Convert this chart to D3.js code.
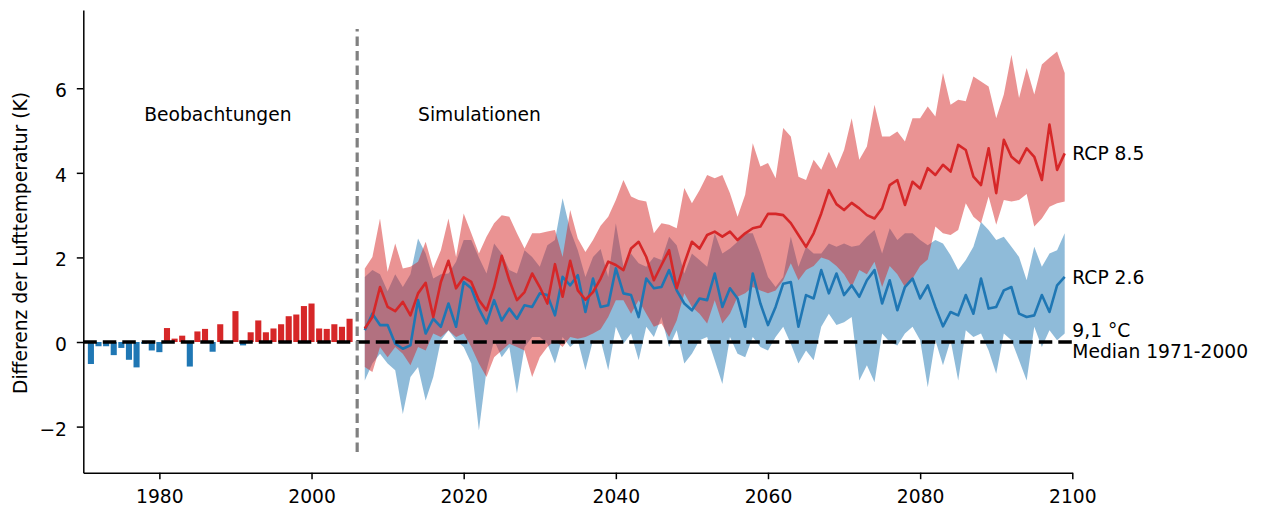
<!DOCTYPE html>
<html><head><meta charset="utf-8">
<script src="https://cdn.jsdelivr.net/npm/d3@7"></script>
<style>body{margin:0;background:#fff} svg{display:block} text{font-family:"DejaVu Sans",sans-serif;fill:#000}</style>
</head><body><svg id="c" width="1266" height="506"></svg>
<script>
// ---- data ----
const obsYears = d3.range(1971, 2006);
const obsValues = [-0.52,-0.10,-0.10,-0.31,-0.14,-0.42,-0.60,-0.04,-0.20,-0.24,
  0.33,0.08,0.15,-0.58,0.25,0.31,-0.23,0.42,0.02,0.73,
  -0.08,0.23,0.51,0.23,0.32,0.42,0.61,0.65,0.85,0.91,
  0.32,0.31,0.42,0.36,0.55];

const simYears = d3.range(2007, 2100);
const rcp85Median = [0.32,0.59,1.30,0.83,0.73,0.95,0.63,1.15,1.40,0.59,1.42,1.92,1.27,1.53,1.42,0.99,0.75,1.30,2.04,1.46,0.99,1.18,1.62,1.30,0.91,1.84,1.07,1.92,1.22,1.00,1.18,1.50,
  1.90,1.82,1.70,2.21,2.37,2.01,1.46,1.82,2.17,1.27,1.86,2.37,2.21,2.53,2.61,2.49,2.61,2.41,2.57,2.69,2.73,3.03,3.03,3.00,2.81,2.53,2.25,2.57,3.04,3.59,3.26,
  3.12,3.29,3.16,3.00,2.92,3.16,3.71,3.83,3.24,3.79,3.63,4.11,3.95,4.19,4.03,4.66,4.54,3.91,3.71,4.58,3.52,4.78,4.38,4.23,4.58,4.38,3.83,5.14,4.07,4.46];
const rcp85High = [1.74,2.01,2.92,1.66,2.33,1.74,1.78,1.90,2.37,1.74,2.17,2.92,2.01,3.04,2.57,2.09,2.49,2.81,3.00,2.96,2.57,2.21,2.57,2.57,2.61,2.65,2.01,3.12,2.45,2.13,2.41,2.75,
  2.96,3.36,3.83,3.44,3.36,3.32,2.57,2.81,2.77,2.69,3.64,3.28,3.59,3.95,3.87,3.95,3.52,2.96,3.48,4.70,4.15,4.23,3.87,5.06,4.86,3.91,3.83,4.31,4.07,4.50,4.10,
  4.54,5.29,4.31,4.62,5.61,4.86,4.86,4.98,4.74,5.29,5.29,5.57,5.33,6.36,5.61,5.73,5.69,6.28,6.16,6.04,5.29,5.85,6.79,5.77,6.48,5.85,6.56,6.72,6.87,6.36];
const rcp85Low = [-0.59,-0.71,-0.12,-0.36,-0.12,-0.28,-0.55,-0.12,-0.20,0.20,0.12,0.28,0.12,0.20,-0.12,-0.51,-0.83,-0.36,-0.20,-0.04,-0.12,-0.20,-0.83,-0.36,-0.12,0.04,-0.12,0.12,0.08,0.12,0.20,0.30,
  0.59,0.99,0.99,0.67,0.99,0.67,0.36,0.44,0.12,0.51,1.15,0.83,0.67,0.44,0.99,0.44,0.67,1.07,1.15,1.30,1.22,1.15,1.22,1.46,1.86,1.46,1.70,1.80,2.00,1.94,1.80,
  1.60,1.30,1.70,1.60,1.90,1.30,1.80,1.60,1.30,1.50,1.80,1.95,2.73,2.57,2.53,2.65,3.28,2.96,2.81,3.44,2.77,3.36,3.32,3.36,3.50,2.73,2.92,3.20,3.28,3.32];
const rcp26Median = [0.28,0.67,0.40,0.40,-0.04,-0.16,-0.08,0.99,0.20,0.55,0.36,0.91,0.36,1.42,1.27,0.79,0.44,0.99,0.51,0.79,0.55,0.87,0.83,1.15,1.11,0.63,1.54,1.34,1.58,0.71,1.50,0.83,
  0.87,1.74,1.15,1.11,0.59,1.50,1.27,1.30,1.70,1.22,0.91,0.75,1.03,0.99,1.62,0.83,1.27,1.03,0.36,1.62,0.91,0.40,0.83,1.38,1.42,0.36,1.11,1.03,1.70,1.15,1.62,
  1.11,1.34,1.07,1.46,1.70,0.91,1.46,0.75,1.30,1.50,1.03,1.34,0.83,0.37,0.71,0.63,1.11,0.67,1.50,0.79,0.83,1.22,1.30,0.67,0.59,0.63,1.11,0.71,1.34,1.54];
const rcp26High = [1.54,1.70,1.60,1.20,1.60,1.30,1.60,2.45,2.09,1.50,1.60,1.62,1.90,2.41,2.41,2.00,1.62,2.33,2.09,1.70,1.62,2.17,2.01,1.78,2.29,2.41,3.40,2.65,2.17,1.54,2.01,2.20,
  1.54,2.81,1.78,2.09,1.86,1.78,2.01,1.94,2.49,2.29,1.62,2.09,1.94,1.78,2.57,2.09,2.21,2.37,2.57,2.57,2.09,1.54,1.30,1.54,2.49,1.78,2.25,2.09,2.09,2.33,2.25,
  2.33,2.25,2.29,2.49,2.65,2.09,2.69,2.41,2.57,2.57,2.41,2.29,2.41,2.33,2.05,1.70,1.94,2.25,2.84,2.65,2.41,2.49,2.25,2.01,1.46,2.25,1.78,2.09,2.17,2.57];
const rcp26Low = [-0.91,-0.51,-0.28,-0.51,-0.67,-1.70,-0.83,-0.59,-1.38,-0.83,0.04,0.28,0.04,-0.12,-0.51,-2.09,-0.67,0.04,-0.36,-0.12,-1.22,-0.12,0.12,0.12,-0.04,-0.51,0.12,-0.12,0.04,-0.67,0.04,0.05,
  -0.67,0.36,-0.04,0.20,-0.43,0.36,0.12,0.59,-0.12,0.28,-0.51,-0.28,0.04,0.12,-0.43,-0.99,0.12,-0.28,-0.36,0.12,-0.12,-0.20,0.12,0.36,-0.04,-0.51,-0.20,-0.43,0.36,0.67,0.40,
  0.47,0.59,-0.91,-0.55,-0.95,0.20,0.00,-0.08,0.20,0.36,0.04,-1.07,0.04,-0.55,0.04,-0.91,0.28,0.12,0.20,-0.20,-0.75,0.20,0.04,-0.43,-0.91,0.36,-0.12,0.28,0.04,0.20];

const xTicks = [1980, 2000, 2020, 2040, 2060, 2080, 2100];
const yTicks = [-2, 0, 2, 4, 6];
const xDomain = [1970, 2100];
const yDomain = [-3.09, 7.85];
const splitYear = 2006;
const splitRange = [-2.6, 7.4];
const labels = {obs: "Beobachtungen", sim: "Simulationen", r85: "RCP 8.5", r26: "RCP 2.6",
  ref1: "9,1 °C", ref2: "Median 1971-2000", yTitle: "Differenz der Lufttemperatur (K)"};
const labelPos = {obsYear: 1978, simYear: 2014, value: 5.23};

// ---- chart ----
const RED = "#d62728", BLUE = "#1f77b4";
const FS = 18.7;
const svg = d3.select("#c");
const x = d3.scaleLinear().domain(xDomain).range([83.3, 1072.3]);
const y = d3.scaleLinear().domain(yDomain).range([472.7, 10]);

const sim = simYears.map((yr, i) => ({yr, m85: rcp85Median[i], h85: rcp85High[i], l85: rcp85Low[i],
  m26: rcp26Median[i], h26: rcp26High[i], l26: rcp26Low[i]}));

// bars
const bw = 0.8 * (x(1) - x(0));
svg.append("g").selectAll("rect").data(obsYears.map((yr, i) => ({yr, v: obsValues[i]})))
  .join("rect")
  .attr("x", d => x(d.yr) - bw / 2)
  .attr("width", bw)
  .attr("y", d => y(Math.max(0, d.v)))
  .attr("height", d => Math.abs(y(d.v) - y(0)))
  .attr("fill", d => d.v < 0 ? BLUE : RED);

// bands
const area = (lo, hi) => d3.area().x(d => x(d.yr)).y0(d => y(d[lo])).y1(d => y(d[hi]));
svg.append("path").datum(sim).attr("d", area("l26", "h26")).attr("fill", BLUE).attr("fill-opacity", 0.5);
svg.append("path").datum(sim).attr("d", area("l85", "h85")).attr("fill", RED).attr("fill-opacity", 0.5);

// medians
const line = k => d3.line().x(d => x(d.yr)).y(d => y(d[k]));
svg.append("path").datum(sim).attr("d", line("m26")).attr("fill", "none").attr("stroke", BLUE).attr("stroke-width", 2.6).attr("stroke-linejoin", "round");
svg.append("path").datum(sim).attr("d", line("m85")).attr("fill", "none").attr("stroke", RED).attr("stroke-width", 2.6).attr("stroke-linejoin", "round");

// reference lines
svg.append("line").attr("x1", x(xDomain[0])).attr("x2", x(xDomain[1])).attr("y1", y(0)).attr("y2", y(0))
  .attr("stroke", "#000").attr("stroke-width", 3.5).attr("stroke-dasharray", "13.5,6");
svg.append("line").attr("x1", x(splitYear)).attr("x2", x(splitYear)).attr("y1", y(splitRange[0])).attr("y2", y(splitRange[1]))
  .attr("stroke", "#808080").attr("stroke-width", 3.2).attr("stroke-dasharray", "9.5,5");

// axes
const xAxis = svg.append("g").attr("transform", `translate(0,${y(yDomain[0])})`)
  .call(d3.axisBottom(x).tickValues(xTicks).tickFormat(d3.format("d")).tickSize(6.5).tickSizeOuter(0).tickPadding(11));
const yAxis = svg.append("g").attr("transform", `translate(${x(xDomain[0])},0)`)
  .call(d3.axisLeft(y).tickValues(yTicks).tickFormat(d => d < 0 ? "\u2212" + Math.abs(d) : d).tickSize(6.5).tickSizeOuter(0).tickPadding(9.8));
[xAxis, yAxis].forEach(g => {
  g.select(".domain").attr("stroke", "#000").attr("stroke-width", 1.5);
  g.selectAll(".tick line").attr("stroke", "#000").attr("stroke-width", 1.5);
  g.selectAll(".tick text").attr("font-size", FS).attr("font-family", "DejaVu Sans").attr("fill", "#000");
});
yAxis.selectAll(".tick text").attr("dy", "0.45em");

// texts
const t = (txt, xx, yy, anchor = "start") => svg.append("text").attr("x", xx).attr("y", yy)
  .attr("font-size", FS).attr("text-anchor", anchor).text(txt);
t(labels.obs, x(labelPos.obsYear), y(labelPos.value));
t(labels.sim, x(labelPos.simYear), y(labelPos.value));
const last = sim[sim.length - 1];
t(labels.r85, x(xDomain[1]), y(last.m85) + 6.8);
t(labels.r26, x(xDomain[1]), y(last.m26) + 6.8);
t(labels.ref1, x(xDomain[1]), y(0) - 4.8);
t(labels.ref2, x(xDomain[1]), y(0) + 16.2);
svg.append("text").attr("transform", `translate(26.9,243) rotate(-90)`)
  .attr("font-size", FS).attr("text-anchor", "middle").text(labels.yTitle);
</script>
</body></html>
